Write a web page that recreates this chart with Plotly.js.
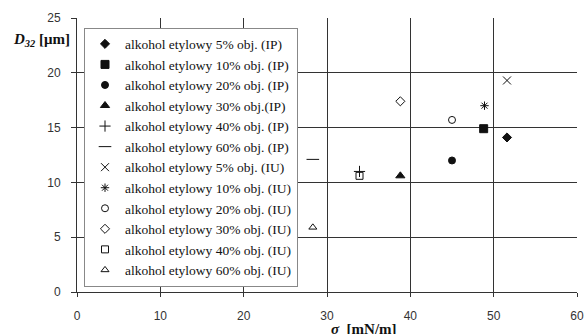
<!DOCTYPE html>
<html><head><meta charset="utf-8">
<script src="https://cdn.plot.ly/plotly-3.0.1.min.js"></script>
<style>body{margin:0;background:#fff}#c{width:585px;height:334px}</style>
</head><body><div id="c"></div>
<script>
const names = [
  "alkohol etylowy 5% obj. (IP)",
  "alkohol etylowy 10% obj. (IP)",
  "alkohol etylowy 20% obj. (IP)",
  "alkohol etylowy 30% obj.(IP)",
  "alkohol etylowy 40% obj. (IP)",
  "alkohol etylowy 60% obj. (IP)",
  "alkohol etylowy 5% obj. (IU)",
  "alkohol etylowy 10% obj. (IU)",
  "alkohol etylowy 20% obj. (IU)",
  "alkohol etylowy 30% obj. (IU)",
  "alkohol etylowy 40% obj. (IU)",
  "alkohol etylowy 60% obj. (IU)"
];
const sigma = [51.6, 48.8, 45.0, 38.8, 33.9, 28.3, 51.6, 48.9, 45.0, 38.8, 33.9, 28.3];
const d32   = [14.1, 14.9, 12.0, 10.6, 11.0, 12.1, 19.3, 17.0, 15.7, 17.4, 10.6, 5.9];
const symbols = ["diamond","square","circle","triangle-up","cross-thin-open","line-ew-open",
  "x-thin-open","asterisk-open","circle-open","diamond-open","square-open","triangle-up-open"];
const sizes = [7,8,7,8,8,9,8,7,7,7,7,7];
const xTicks = [0,10,20,30,40,50,60];
const yTicks = [0,5,10,15,20,25];

const traces = names.map((n,i)=>({
  type:'scatter', mode:'markers', name:n,
  x:[sigma[i]], y:[d32[i]],
  marker:{symbol:symbols[i], size:sizes[i], color:'#111', line:{color:'#111', width:1}}
}));

const fam = 'Liberation Serif, Times New Roman, serif';
const sans = 'Liberation Sans, Arial, sans-serif';
const tickfont = {family:sans, size:12, color:'#333'};
const layout = {
  width:585, height:334,
  margin:{l:77, r:8, t:18, b:42},
  paper_bgcolor:'#fff', plot_bgcolor:'#fff',
  font:{family:fam, size:13, color:'#111'},
  showlegend:true,
  legend:{x:0.014, y:0.965, xanchor:'left', yanchor:'top', bgcolor:'#fff',
    bordercolor:'#888', borderwidth:1, itemwidth:30, tracegroupgap:0,
    font:{family:fam, size:13.5, color:'#111'}},
  xaxis:{range:[0,60], tickvals:xTicks, ticktext:xTicks.map(String), showgrid:true,
    gridcolor:'#333', gridwidth:1, zeroline:false, showline:true, linecolor:'#333',
    ticks:'outside', ticklen:4, tickcolor:'#333', tickfont:tickfont, ticklabelstandoff:9,
    fixedrange:true},
  yaxis:{range:[0,25], tickvals:yTicks, ticktext:yTicks.map(String), showgrid:true,
    gridcolor:'#333', gridwidth:1, zeroline:false, showline:true, linecolor:'#333',
    ticks:'outside', ticklen:5, tickcolor:'#333', tickfont:tickfont, ticklabelstandoff:8,
    fixedrange:true},
  annotations:[
    {xref:'paper', yref:'paper', x:-0.01, y:0.921, xanchor:'right', yanchor:'middle', showarrow:false,
     text:'<b><i>D</i></b><sub><b><i>32</i></b></sub><b> [μm]</b>', font:{family:fam,size:15,color:'#111'}},
    {xref:'paper', yref:'paper', x:0.574, y:-0.098, xanchor:'center', yanchor:'top', showarrow:false,
     text:'<b><i>σ</i>  [mN/m]</b>', font:{family:fam,size:15,color:'#111'}}
  ]
};
Plotly.newPlot('c', traces, layout, {displayModeBar:false, staticPlot:true});
</script></body></html>
